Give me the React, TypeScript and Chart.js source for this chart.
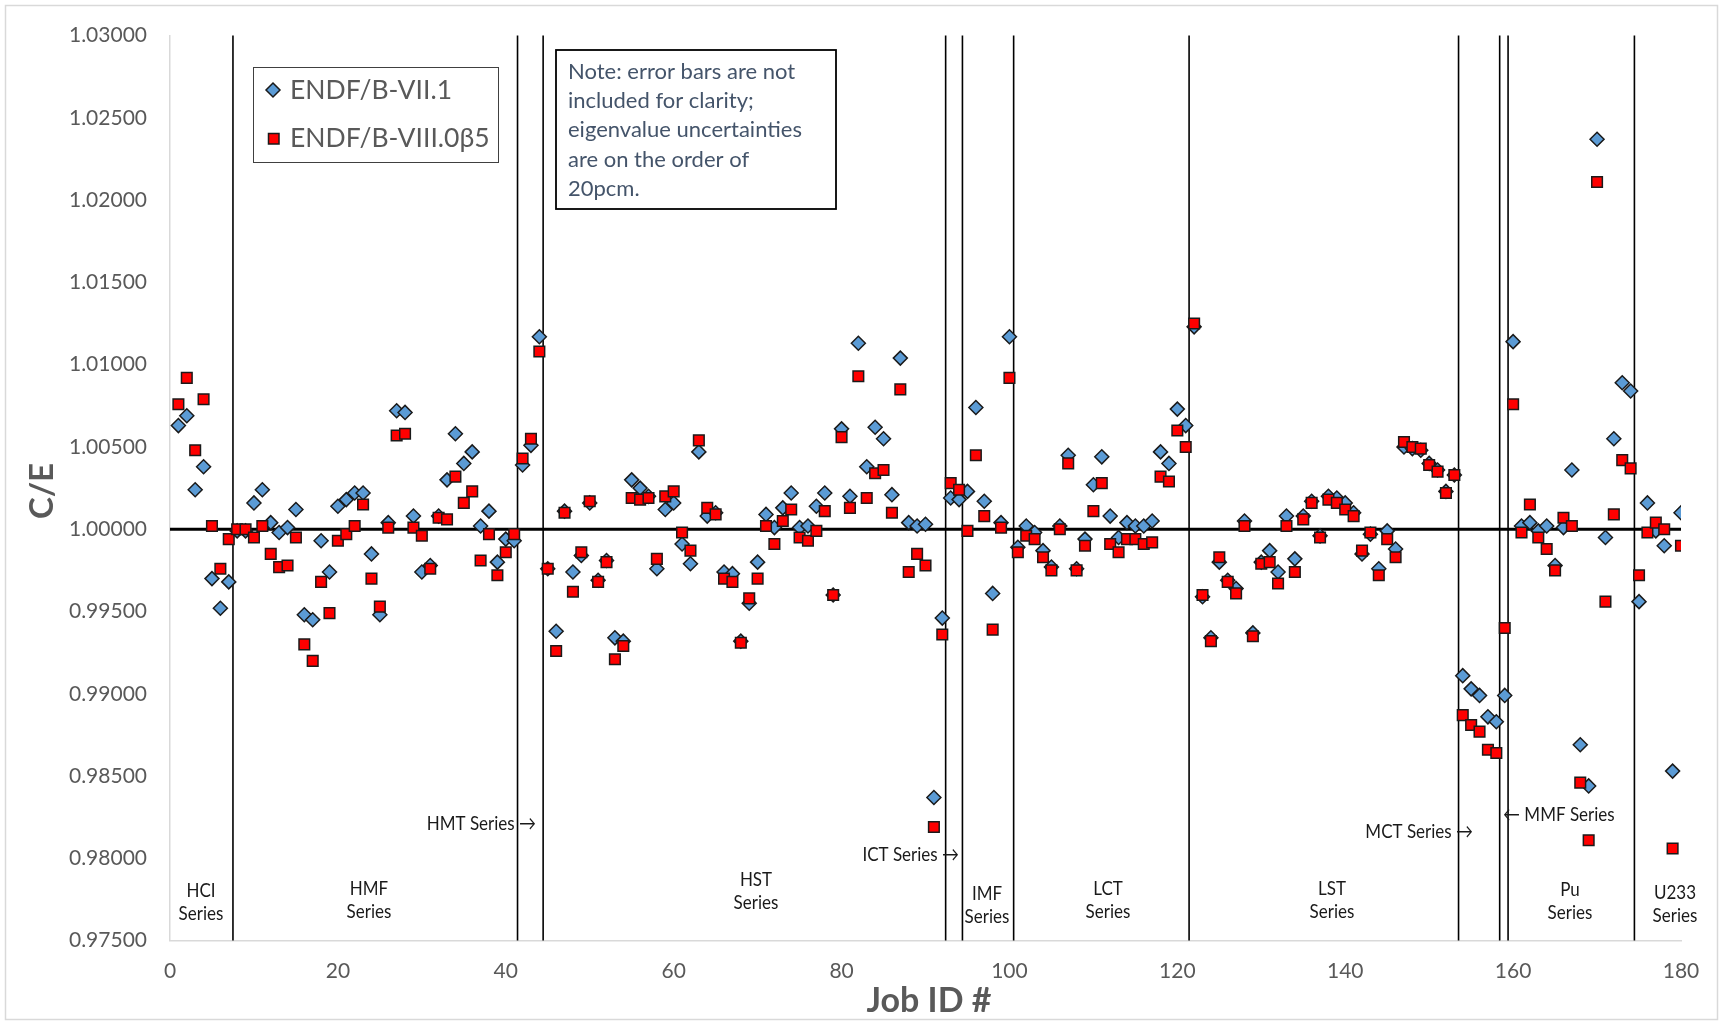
import React, { useEffect, useRef } from 'react';
import { Chart, registerables } from 'chart.js';

Chart.register(...registerables);

// ---------------- DATA ----------------
const jobIds: number[] = [
  1, 2, 3, 4, 5, 6, 7, 8, 9, 10, 11, 12, 13, 14, 15, 16, 17, 18, 19, 20,
  21, 22, 23, 24, 25, 26, 27, 28, 29, 30, 31, 32, 33, 34, 35, 36, 37, 38, 39, 40,
  41, 42, 43, 44, 45, 46, 47, 48, 49, 50, 51, 52, 53, 54, 55, 56, 57, 58, 59, 60,
  61, 62, 63, 64, 65, 66, 67, 68, 69, 70, 71, 72, 73, 74, 75, 76, 77, 78, 79, 80,
  81, 82, 83, 84, 85, 86, 87, 88, 89, 90, 91, 92, 93, 94, 95, 96, 97, 98, 99, 100,
  101, 102, 103, 104, 105, 106, 107, 108, 109, 110, 111, 112, 113, 114, 115, 116, 117, 118, 119, 120,
  121, 122, 123, 124, 125, 126, 127, 128, 129, 130, 131, 132, 133, 134, 135, 136, 137, 138, 139, 140,
  141, 142, 143, 144, 145, 146, 147, 148, 149, 150, 151, 152, 153, 154, 155, 156, 157, 158, 159, 160,
  161, 162, 163, 164, 165, 166, 167, 168, 169, 170, 171, 172, 173, 174, 175, 176, 177, 178, 179, 180,
];

const endfVII1: number[] = [
  1.0063, 1.0069, 1.0024, 1.0038, 0.9970, 0.9952, 0.9968, 0.9999, 0.9999, 1.0016,
  1.0024, 1.0004, 0.9998, 1.0001, 1.0012, 0.9948, 0.9945, 0.9993, 0.9974, 1.0014,
  1.0018, 1.0022, 1.0022, 0.9985, 0.9948, 1.0004, 1.0072, 1.0071, 1.0008, 0.9974,
  0.9978, 1.0008, 1.0030, 1.0058, 1.0040, 1.0047, 1.0002, 1.0011, 0.9980, 0.9994,
  0.9993, 1.0039, 1.0051, 1.0117, 0.9976, 0.9938, 1.0011, 0.9974, 0.9984, 1.0016,
  0.9969, 0.9981, 0.9934, 0.9932, 1.0030, 1.0025, 1.0020, 0.9976, 1.0012, 1.0016,
  0.9991, 0.9979, 1.0047, 1.0008, 1.0010, 0.9974, 0.9973, 0.9932, 0.9955, 0.9980,
  1.0009, 1.0001, 1.0013, 1.0022, 1.0001, 1.0002, 1.0014, 1.0022, 0.9960, 1.0061,
  1.0020, 1.0113, 1.0038, 1.0062, 1.0055, 1.0021, 1.0104, 1.0004, 1.0002, 1.0003,
  0.9837, 0.9946, 1.0019, 1.0018, 1.0023, 1.0074, 1.0017, 0.9961, 1.0004, 1.0117,
  0.9989, 1.0002, 0.9998, 0.9987, 0.9977, 1.0002, 1.0045, 0.9976, 0.9994, 1.0027,
  1.0044, 1.0008, 0.9995, 1.0004, 1.0002, 1.0002, 1.0005, 1.0047, 1.0040, 1.0073,
  1.0063, 1.0123, 0.9959, 0.9934, 0.9980, 0.9969, 0.9964, 1.0005, 0.9937, 0.9980,
  0.9987, 0.9974, 1.0008, 0.9982, 1.0008, 1.0017, 0.9996, 1.0020, 1.0019, 1.0016,
  1.0010, 0.9985, 0.9997, 0.9976, 0.9999, 0.9988, 1.0050, 1.0049, 1.0048, 1.0040,
  1.0036, 1.0023, 1.0033, 0.9911, 0.9903, 0.9899, 0.9886, 0.9883, 0.9899, 1.0114,
  1.0002, 1.0004, 0.9999, 1.0002, 0.9978, 1.0001, 1.0036, 0.9869, 0.9844, 1.0237,
  0.9995, 1.0055, 1.0089, 1.0084, 0.9956, 1.0016, 0.9999, 0.9990, 0.9853, 1.0010,
];

const endfVIII0b5: number[] = [
  1.0076, 1.0092, 1.0048, 1.0079, 1.0002, 0.9976, 0.9994, 1.0000, 1.0000, 0.9995,
  1.0002, 0.9985, 0.9977, 0.9978, 0.9995, 0.9930, 0.9920, 0.9968, 0.9949, 0.9993,
  0.9997, 1.0002, 1.0015, 0.9970, 0.9953, 1.0001, 1.0057, 1.0058, 1.0001, 0.9996,
  0.9976, 1.0007, 1.0006, 1.0032, 1.0016, 1.0023, 0.9981, 0.9997, 0.9972, 0.9986,
  0.9997, 1.0043, 1.0055, 1.0108, 0.9976, 0.9926, 1.0010, 0.9962, 0.9986, 1.0017,
  0.9968, 0.9980, 0.9921, 0.9929, 1.0019, 1.0018, 1.0019, 0.9982, 1.0020, 1.0023,
  0.9998, 0.9987, 1.0054, 1.0013, 1.0009, 0.9970, 0.9968, 0.9931, 0.9958, 0.9970,
  1.0002, 0.9991, 1.0005, 1.0012, 0.9995, 0.9993, 0.9999, 1.0011, 0.9960, 1.0056,
  1.0013, 1.0093, 1.0019, 1.0034, 1.0036, 1.0010, 1.0085, 0.9974, 0.9985, 0.9978,
  0.9819, 0.9936, 1.0028, 1.0024, 0.9999, 1.0045, 1.0008, 0.9939, 1.0001, 1.0092,
  0.9986, 0.9996, 0.9994, 0.9983, 0.9975, 1.0000, 1.0040, 0.9975, 0.9990, 1.0011,
  1.0028, 0.9991, 0.9986, 0.9994, 0.9994, 0.9991, 0.9992, 1.0032, 1.0029, 1.0060,
  1.0050, 1.0125, 0.9960, 0.9932, 0.9983, 0.9968, 0.9961, 1.0002, 0.9935, 0.9979,
  0.9980, 0.9967, 1.0002, 0.9974, 1.0006, 1.0016, 0.9995, 1.0018, 1.0016, 1.0012,
  1.0008, 0.9987, 0.9998, 0.9972, 0.9994, 0.9983, 1.0053, 1.0050, 1.0049, 1.0039,
  1.0035, 1.0022, 1.0033, 0.9887, 0.9881, 0.9877, 0.9866, 0.9864, 0.9940, 1.0076,
  0.9998, 1.0015, 0.9995, 0.9988, 0.9975, 1.0007, 1.0002, 0.9846, 0.9811, 1.0211,
  0.9956, 1.0009, 1.0042, 1.0037, 0.9972, 0.9998, 1.0004, 1.0000, 0.9806, 0.9990,
];

const seriesNames: string[] = ['ENDF/B-VII.1', 'ENDF/B-VIII.0\u03B25'];
const seriesBoundaries: number[] = [7.5, 41.4, 44.45, 92.4, 94.4, 100.5, 121.4, 153.5, 158.4, 159.4, 174.45];
const referenceValue = 1.0;
const xTickMin = 0;
const xTickMax = 180;
const xTickStep = 20;
const yTickMin = 0.975;
const yTickMax = 1.03;
const yTickStep = 0.005;
const noteLines: string[] = [
  'Note: error bars are not',
  'included for clarity;',
  'eigenvalue uncertainties',
  'are on the order of',
  '20pcm.',
];

// ---------------- STYLE ----------------
const FONT = 'Lato, "Open Sans", "Noto Sans", sans-serif';
const GREY = '#595959';
const BLUE = '#5B9BD5';
const RED = '#FF0000';

// group labels: [lines, x px, y px of first line, align]
const groupLabels: { lines: string[]; x: number; y: number; align: CanvasTextAlign }[] = [
  { lines: ['HCI', 'Series'], x: 201, y: 891, align: 'center' },
  { lines: ['HMF', 'Series'], x: 369, y: 889, align: 'center' },
  { lines: ['HMT Series \u2192'], x: 536, y: 824, align: 'right' },
  { lines: ['HST', 'Series'], x: 756, y: 880, align: 'center' },
  { lines: ['ICT Series \u2192'], x: 959, y: 855, align: 'right' },
  { lines: ['IMF', 'Series'], x: 987, y: 894, align: 'center' },
  { lines: ['LCT', 'Series'], x: 1108, y: 889, align: 'center' },
  { lines: ['LST', 'Series'], x: 1332, y: 889, align: 'center' },
  { lines: ['MCT Series \u2192'], x: 1473, y: 832, align: 'right' },
  { lines: ['\u2190 MMF Series'], x: 1503, y: 815, align: 'left' },
  { lines: ['Pu', 'Series'], x: 1570, y: 890, align: 'center' },
  { lines: ['U233', 'Series'], x: 1675, y: 893, align: 'center' },
];

const decorPlugin = {
  id: 'decor',
  beforeDatasetsDraw(chart: any) {
    const { ctx, chartArea, scales } = chart;
    const xs = scales.x;
    const ys = scales.y;
    ctx.save();
    ctx.strokeStyle = '#000000';
    ctx.lineWidth = 1.6;
    for (const b of seriesBoundaries) {
      const px = xs.getPixelForValue(b);
      ctx.beginPath();
      ctx.moveTo(px, chartArea.top);
      ctx.lineTo(px, chartArea.bottom);
      ctx.stroke();
    }
    const py = ys.getPixelForValue(referenceValue);
    ctx.lineWidth = 3;
    ctx.beginPath();
    ctx.moveTo(xs.getPixelForValue(xTickMin), py);
    ctx.lineTo(xs.getPixelForValue(xTickMax), py);
    ctx.stroke();
    ctx.restore();
  },
  afterDraw(chart: any) {
    const { ctx } = chart;
    ctx.save();
    // outer border
    ctx.strokeStyle = '#D9D9D9';
    ctx.lineWidth = 1.5;
    ctx.strokeRect(5.5, 5.5, 1712, 1014);

    // axis titles
    ctx.fillStyle = GREY;
    ctx.font = `bold 34px ${FONT}`;
    ctx.textAlign = 'center';
    ctx.textBaseline = 'middle';
    ctx.fillText('Job ID #', 929, 1001);
    ctx.font = `bold 33px ${FONT}`;
    ctx.save();
    ctx.translate(42, 491);
    ctx.rotate(-Math.PI / 2);
    ctx.fillText('C/E', 0, 0);
    ctx.restore();

    // legend
    ctx.fillStyle = '#FFFFFF';
    ctx.fillRect(253, 67, 245, 95);
    ctx.strokeStyle = '#404040';
    ctx.lineWidth = 1;
    ctx.strokeRect(253.5, 67.5, 245, 95);
    ctx.beginPath();
    ctx.moveTo(273, 83);
    ctx.lineTo(280, 90);
    ctx.lineTo(273, 97);
    ctx.lineTo(266, 90);
    ctx.closePath();
    ctx.fillStyle = BLUE;
    ctx.fill();
    ctx.strokeStyle = '#1a1a1a';
    ctx.lineWidth = 1.5;
    ctx.stroke();
    ctx.fillStyle = RED;
    ctx.fillRect(268.5, 133.5, 10.5, 10.5);
    ctx.strokeRect(268.5, 133.5, 10.5, 10.5);
    ctx.fillStyle = GREY;
    ctx.font = `26.5px ${FONT}`;
    ctx.textAlign = 'left';
    ctx.textBaseline = 'middle';
    ctx.fillText(seriesNames[0], 290, 90);
    ctx.fillText(seriesNames[1], 290, 138);

    // note box
    ctx.fillStyle = '#FFFFFF';
    ctx.fillRect(556, 50, 280, 159);
    ctx.strokeStyle = '#000000';
    ctx.lineWidth = 1.8;
    ctx.strokeRect(556, 50, 280, 159);
    ctx.fillStyle = '#44546A';
    ctx.font = `22px ${FONT}`;
    noteLines.forEach((t, i) => ctx.fillText(t, 568, 71.5 + i * 29.4));

    // group labels (condensed look)
    ctx.fillStyle = '#1a1a1a';
    ctx.font = `20px ${FONT}`;
    for (const g of groupLabels) {
      ctx.textAlign = g.align;
      g.lines.forEach((t, i) => {
        ctx.save();
        ctx.translate(g.x, g.y + i * 22.5);
        ctx.scale(0.85, 1);
        ctx.fillText(t, 0, 0);
        ctx.restore();
      });
    }
    ctx.restore();
  },
};

export default function App() {
  const ref = useRef<HTMLCanvasElement | null>(null);
  useEffect(() => {
    document.body.style.margin = '0';
    document.body.style.overflow = 'hidden';
    const canvas = ref.current;
    if (!canvas) return;
    const chart = new Chart(canvas, {
      type: 'scatter',
      data: {
        datasets: [
          {
            label: seriesNames[0],
            data: jobIds.map((id, i) => ({ x: id, y: endfVII1[i] })),
            pointStyle: 'rectRot',
            pointRadius: 7,
            backgroundColor: BLUE,
            borderColor: '#1a1a1a',
            borderWidth: 1.5,
            order: 1,
          },
          {
            label: seriesNames[1],
            data: jobIds.map((id, i) => ({ x: id, y: endfVIII0b5[i] })),
            pointStyle: 'rect',
            pointRadius: 7.5,
            backgroundColor: RED,
            borderColor: '#1a1a1a',
            borderWidth: 1.5,
            order: 0,
          },
        ],
      },
      options: {
        animation: false,
        responsive: false,
        devicePixelRatio: 1,
        layout: { padding: { left: 0, top: 35, right: 42, bottom: 0 } },
        plugins: { legend: { display: false }, tooltip: { enabled: false } },
        scales: {
          x: {
            type: 'linear',
            min: xTickMin,
            max: xTickMax,
            ticks: { stepSize: xTickStep, color: GREY, font: { family: FONT, size: 21 }, padding: 18 },
            grid: { display: false, drawTicks: false },
            border: { display: true, color: '#D9D9D9', width: 1.5 },
            afterFit: (s: any) => { s.height = 83.4; },
          },
          y: {
            type: 'linear',
            min: yTickMin,
            max: yTickMax,
            ticks: {
              stepSize: yTickStep,
              color: GREY,
              font: { family: FONT, size: 21 },
              padding: 23,
              callback: (v: any) => Number(v).toFixed(5),
            },
            grid: { display: false, drawTicks: false },
            border: { display: true, color: '#D9D9D9', width: 1.5 },
            afterFit: (s: any) => { s.width = 170; },
          },
        },
      },
      plugins: [decorPlugin],
    });
    return () => chart.destroy();
  }, []);
  return (
    <div style={{ width: 1723, height: 1024, background: '#fff' }}>
      <canvas ref={ref} width={1723} height={1024} style={{ display: 'block', width: 1723, height: 1024 }} />
    </div>
  );
}
